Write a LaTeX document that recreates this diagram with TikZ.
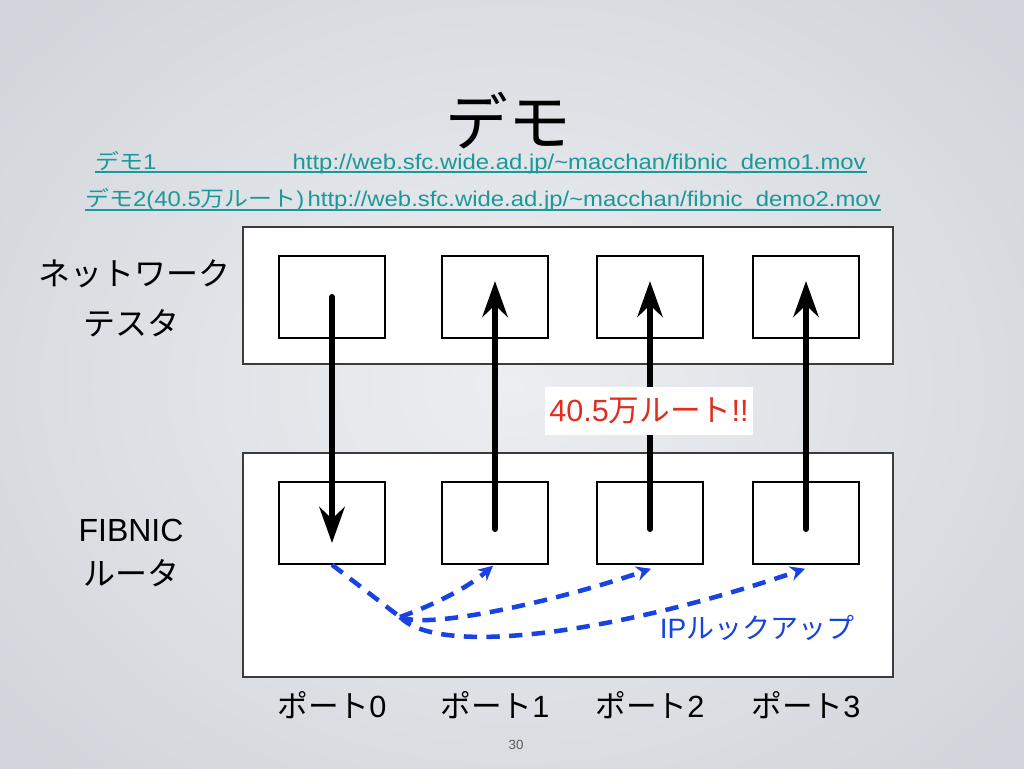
\documentclass[tikz,border=0pt]{standalone}
\usepackage{fontspec}
\setmainfont{Liberation Sans}
\newfontfamily\jp{Noto Sans CJK JP}
\newfontfamily\lnk[FakeStretch=1.12]{Liberation Sans}
\newfontfamily\lnkjp[FakeStretch=1.12]{Noto Sans CJK JP}
\usetikzlibrary{arrows.meta,calc}
\definecolor{linkc}{RGB}{27,152,152}
\definecolor{redc}{RGB}{226,45,30}
\definecolor{lookblue}{RGB}{24,66,226}
\definecolor{bgin}{RGB}{236,238,241}
\definecolor{bgout}{RGB}{210,214,220}
\definecolor{outerline}{RGB}{60,60,60}
\begin{document}
\begin{tikzpicture}[x=0.75pt,y=-0.75pt,
  outerbox/.style={draw=outerline, fill=white, line width=1.1pt, minimum width=487.5pt, inner sep=0pt},
  portbox/.style={draw=black, fill=white, line width=1.6pt, minimum width=79.5pt, minimum height=61pt, inner sep=0pt},
  bigarrow/.style={line width=4.5pt, line cap=round, -{Stealth[length=27pt,width=19pt,inset=9pt]}},
  lookupline/.style={draw=lookblue, line width=3.4pt, dash pattern=on 10pt off 7pt},
  lookarrow/.style={lookupline, -{Stealth[length=11pt,width=11pt]}},
  linktext/.style={text=linkc, inner sep=0pt, font=\lnk\fontsize{16}{18}\selectfont},
  sidelabel/.style={inner sep=0pt, font=\fontsize{24}{28}\selectfont},
  portlabel/.style={inner sep=0pt, font=\fontsize{23}{26}\selectfont}
]
\useasboundingbox (0,0) rectangle (1024,768);
\shade[inner color=bgin, outer color=bgout] (-150,-150) rectangle (1174,918);

% outer boxes
\node[outerbox, minimum height=102.75pt] (tester) at (568,295.5) {};
\node[outerbox, minimum height=168pt] (router) at (568,565) {};

% port boxes
\foreach \i/\x in {0/332,1/495,2/650,3/806}{
  \node[portbox] (t\i) at (\x,297) {};
  \node[portbox] (r\i) at (\x,523) {};
}

% black arrows
\draw[bigarrow] (t0.center) -- ($(r0.center)+(0,20)$);
\foreach \i in {1,2,3}{
  \draw[bigarrow] ($(r\i.center)+(0,6)$) -- ($(t\i.center)+(0,-16)$);
}

% route label
\node[fill=white, minimum width=156pt, minimum height=36pt, inner sep=0pt,
      text=redc, font=\fontsize{23}{26}\selectfont] (route) at (649,411) {40.5{\jp 万ルート}!!};

% lookup curves
\coordinate (look) at (400,617);
\draw[lookupline] (r0.south) -- (look);
\draw[lookarrow] (look) .. controls (428,607) and (465,590) .. ($(r1.south)+(-2,1)$);
\draw[lookarrow] (look) .. controls (430,630) and (560,600) .. ($(r2.south)+(1,4)$);
\draw[lookarrow] (look) .. controls (440,658) and (620,632) .. ($(r3.south)+(-1,4)$);
\node[text=lookblue, inner sep=0pt, font=\fontsize{21}{24}\selectfont] (ip) at (757,628) {IP{\jp ルックアップ}};

% title
\node[inner sep=0pt, font=\jp\fontsize{47}{50}\selectfont] (title) at (508,121) {デモ};

% links
\node[linktext, anchor=base west] (d1) at (95,169) {{\lnkjp デモ}1};
\node[linktext, anchor=base east] (u1) at (866,169) {http://web.sfc.wide.ad.jp/\textasciitilde macchan/fibnic\_demo1.mov};
\draw[linkc, line width=1.4pt] ($(d1.base west)+(0,3)$) -- ($(u1.base east)+(1,3)$);
\node[linktext, anchor=base west] (d2) at (85,206) {{\lnkjp デモ}2(40.5{\lnkjp 万ルート})};
\node[linktext, anchor=base east] (u2) at (881,206) {http://web.sfc.wide.ad.jp/\textasciitilde macchan/fibnic\_demo2.mov};
\draw[linkc, line width=1.4pt] ($(d2.base west)+(0,4)$) -- ($(u2.base east)+(0,4)$);

% side labels
\node[sidelabel] (nt1) at (134,274) {\jp ネットワーク};
\node[sidelabel] (nt2) at (131,323) {\jp テスタ};
\node[sidelabel] (fb1) at (131,530) {FIBNIC};
\node[sidelabel] (fb2) at (131,573) {\jp ルータ};

% port labels
\foreach \i/\x in {0/332,1/495,2/650,3/806}{
  \node[portlabel] (p\i) at (\x,705) {{\jp ポート}\i};
}

% page number
\node[text=black!65, inner sep=0pt, font=\fontsize{10}{12}\selectfont] (pg) at (516,745) {30};
\end{tikzpicture}
\end{document}
